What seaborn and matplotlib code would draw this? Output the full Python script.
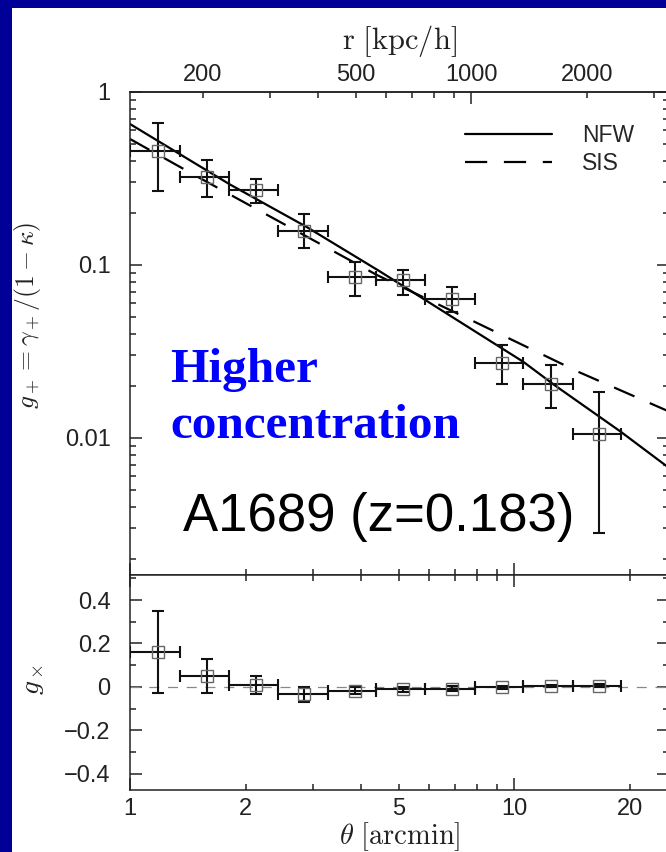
import numpy as np
import matplotlib
matplotlib.use("Agg")
import matplotlib.pyplot as plt
import matplotlib.ticker as ticker
import seaborn as sns
from matplotlib.patches import Rectangle

sns.set_theme(style="ticks")
plt.rcParams["font.family"] = ["Liberation Sans", "DejaVu Sans"]
plt.rcParams["mathtext.fontset"] = "cm"

W, H = 666, 852

# ── data ────────────────────────────────────────────────────────────────────
theta    = np.array([1.183, 1.589, 2.13, 2.84, 3.85, 5.14, 6.88, 9.29, 12.46, 16.68])
theta_lo = np.array([1.0, 1.349, 1.81, 2.43, 3.27, 4.37, 5.87, 7.92, 10.57, 14.2])
theta_hi = np.array([1.349, 1.81, 2.43, 3.27, 4.37, 5.87, 7.92, 10.57, 14.2, 18.96])

g_plus    = np.array([0.456, 0.323, 0.271, 0.158, 0.0856, 0.0819, 0.0636, 0.0272, 0.0205, 0.0105])
g_plus_hi = np.array([0.662, 0.405, 0.314, 0.197, 0.1046, 0.0936, 0.0746, 0.0345, 0.0264, 0.0184])
g_plus_lo = np.array([0.268, 0.247, 0.228, 0.125, 0.0662, 0.0671, 0.0537, 0.0205, 0.0149, 0.0028])

g_cross     = np.array([0.16, 0.05, 0.008, -0.035, -0.018, -0.012, -0.008, -0.003, 0.003, 0.005])
g_cross_err = np.array([0.19, 0.08, 0.04, 0.033, 0.015, 0.012, 0.01, 0.008, 0.006, 0.006])

nfw_theta = [1.0, 1.82, 2.88, 4.48, 10.57, 12.69, 18.89, 25.3]
nfw_g     = [0.653, 0.292, 0.166, 0.0915, 0.0275, 0.0203, 0.0109, 0.0067]
sis_theta = [1.0, 1.52, 4.39, 8.0, 14.68, 25.3]
sis_g     = [0.535, 0.318, 0.0875, 0.0462, 0.0241, 0.0142]

theta_major  = [1, 10]
theta_minor  = [2, 3, 4, 5, 6, 7, 8, 9, 20]
theta_labels = [1, 2, 5, 10, 20]
r_major  = [1000]
r_minor  = [200, 300, 400, 500, 600, 700, 800, 900, 2000, 3000]
r_labels = [200, 500, 1000, 2000]
KPC_PER_ARCMIN = 129.4

# ── figure ──────────────────────────────────────────────────────────────────
fig = plt.figure(figsize=(W / 100, H / 100), dpi=100, facecolor="#000099")
fig.patches.append(Rectangle((12 / W, 0), 1, 1 - 8 / H, transform=fig.transFigure,
                             facecolor="white", edgecolor="none", zorder=-10))

ax  = fig.add_axes([130 / W, 1 - 575 / H, 539 / W, 483 / H])
ax2 = fig.add_axes([130 / W, 1 - 790 / H, 539 / W, 215 / H], sharex=ax)

ax.set_xscale("log")
ax.set_yscale("log")
ax.set_xlim(1, 25.3)
ax.set_ylim(0.00161, 1)
ax2.set_ylim(-0.476, 0.516)

# model curves
sns.lineplot(x=nfw_theta, y=nfw_g, ax=ax, color="black", lw=1.6, label="NFW")
sns.lineplot(x=sis_theta, y=sis_g, ax=ax, color="black", lw=1.6,
             linestyle=(0, (10, 7.5)), label="SIS")

# tangential shear
ax.errorbar(theta, g_plus, xerr=[theta - theta_lo, theta_hi - theta],
            yerr=[g_plus - g_plus_lo, g_plus_hi - g_plus],
            fmt="none", ecolor="#111111", elinewidth=1.5, capsize=4.5, capthick=1.5, zorder=3)
ax.plot(theta, g_plus, "s", mfc="none", mec="#666666", mew=1.0, ms=8.5, zorder=4)

# cross shear
ax2.axhline(0, color="#888888", lw=0.9, ls=(0, (8, 7)), zorder=1)
ax2.errorbar(theta, g_cross, xerr=[theta - theta_lo, theta_hi - theta], yerr=g_cross_err,
             fmt="none", ecolor="#111111", elinewidth=1.5, capsize=4.5, capthick=1.5, zorder=3)
ax2.plot(theta, g_cross, "s", mfc="none", mec="#666666", mew=1.0, ms=8.5, zorder=4)

# ticks
lab = lambda keep: ticker.FuncFormatter(lambda v, _: f"{v:g}" if round(v) in keep else "")
ax2.xaxis.set_major_locator(ticker.FixedLocator(theta_major))
ax2.xaxis.set_minor_locator(ticker.FixedLocator(theta_minor))
ax2.xaxis.set_major_formatter(lab(theta_labels))
ax2.xaxis.set_minor_formatter(lab(theta_labels))

ax.yaxis.set_major_formatter(ticker.FuncFormatter(lambda v, _: f"{v:g}"))
ax.yaxis.set_minor_formatter(ticker.NullFormatter())

ax2.yaxis.set_major_locator(ticker.MultipleLocator(0.2))
ax2.yaxis.set_minor_locator(ticker.MultipleLocator(0.1))
ax2.yaxis.set_major_formatter(ticker.FuncFormatter(
    lambda v, _: "0" if abs(v) < 1e-9 else f"{v:.1f}".replace("-", "\u2212")))

for a in (ax, ax2):
    for s in a.spines.values():
        s.set_linewidth(1.1)
        s.set_color("#222222")
    a.tick_params(which="both", direction="in", top=True, right=True, bottom=True, left=True,
                  width=1.1, color="#222222", labelsize=17, labelcolor="#222222")
    a.tick_params(which="major", length=8.5)
    a.tick_params(which="minor", length=4.5)
    a.tick_params(axis="y", which="both", pad=14)
ax.tick_params(axis="x", which="both", top=False, labelbottom=False)
ax2.tick_params(axis="x", which="both", pad=6)

# top axis in kpc/h
secax = ax.secondary_xaxis("top", functions=(lambda t: np.asarray(t) * KPC_PER_ARCMIN,
                                               lambda r: np.asarray(r) / KPC_PER_ARCMIN))
secax.xaxis.set_major_locator(ticker.FixedLocator(r_major))
secax.xaxis.set_minor_locator(ticker.FixedLocator(r_minor))
secax.xaxis.set_major_formatter(lab(r_labels))
secax.xaxis.set_minor_formatter(lab(r_labels))
secax.tick_params(which="both", direction="in", width=1.1, color="#222222",
                  labelsize=17, labelcolor="#222222", pad=4)
secax.tick_params(which="major", length=8.5)
secax.tick_params(which="minor", length=4.5)
secax.spines["top"].set_linewidth(1.1)
secax.set_xlabel(r"$\mathrm{r\ [kpc/h]}$", fontsize=22, labelpad=11, color="#222222")

ax2.set_xlabel(r"$\theta\ \mathrm{[arcmin]}$", fontsize=20.5, labelpad=0, color="#222222")
ax.set_ylabel(r"$g_+ = \gamma_+/(1-\kappa)$", fontsize=18.5, color="#222222", va="center")
ax.yaxis.set_label_coords((28 - 130) / 539, (575 - 315) / 483)
ax2.set_ylabel(r"$g_\times$", fontsize=20, color="#222222", va="center")
ax2.yaxis.set_label_coords((33 - 130) / 539, (790 - 680) / 215)

ax.legend(loc="upper left", bbox_to_anchor=((465 - 130) / 539, (575 - 124) / 483),
          frameon=False, fontsize=16.5, handlelength=3.8, handletextpad=1.3,
          labelspacing=0.2, borderpad=0, borderaxespad=0)

# slide annotations
fig.text(170 / W, 1 - 382 / H, "Higher", fontsize=35.5, fontweight="bold",
         family="Liberation Serif", color="#0000FF", ha="left", va="baseline")
fig.text(170 / W, 1 - 438 / H, "concentration", fontsize=35.5, fontweight="bold",
         family="Liberation Serif", color="#0000FF", ha="left", va="baseline")
fig.text(183 / W, 1 - 531 / H, "A1689 (z=0.183)", fontsize=38,
         family="Liberation Sans", color="black", ha="left", va="baseline")

fig.savefig("out.png", dpi=100, facecolor=fig.get_facecolor())
